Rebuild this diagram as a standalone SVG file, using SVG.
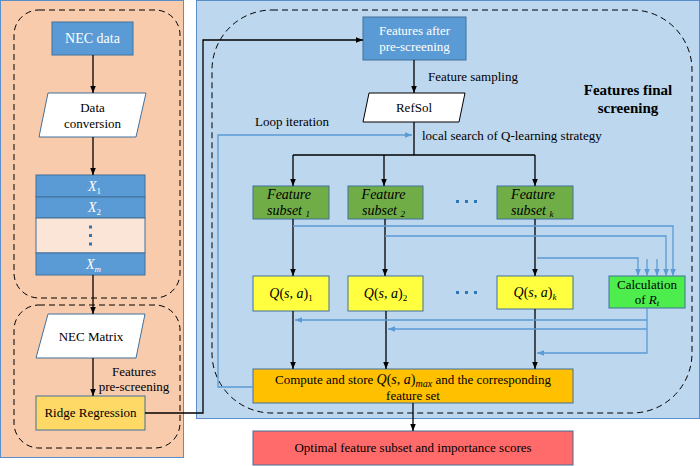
<svg xmlns="http://www.w3.org/2000/svg" width="700" height="466" viewBox="0 0 700 466" font-family="Liberation Serif, serif">
<defs>
<marker id="ab" viewBox="0 0 10 10" refX="10" refY="5" markerWidth="7" markerHeight="7" orient="auto" markerUnits="userSpaceOnUse"><path d="M0,1 L10,5 L0,9 z" fill="#000"/></marker>
<marker id="au" viewBox="0 0 10 10" refX="10" refY="5" markerWidth="7" markerHeight="7" orient="auto" markerUnits="userSpaceOnUse"><path d="M0,1 L10,5 L0,9 z" fill="#5b9bd5"/></marker>
<style>
text{font-family:'Liberation Serif','DejaVu Serif',serif;font-size:13px;fill:#000}
.w{fill:#fff}
.c{text-anchor:middle}
.i{font-style:italic}
.b{font-weight:bold;font-size:15px}
.m{font-size:14px}
.dash{fill:none;stroke:#000;stroke-width:1;stroke-dasharray:6 4}
.box{stroke:#41719c;stroke-width:1}
.k{fill:none;stroke:#000;stroke-width:1.3;marker-end:url(#ab)}
.kl{fill:none;stroke:#000;stroke-width:1.3}
.u{fill:none;stroke:#5b9bd5;stroke-width:1.3;marker-end:url(#au)}
.dot{fill:#2e75b6}
</style>
</defs>
<rect width="700" height="466" fill="#fff"/>
<g id="panel-left">
<rect x="0.5" y="0.5" width="183" height="457" fill="#f8cbad" stroke="#5b8ec9" stroke-width="1"/>
<rect x="14" y="10" width="166" height="288" rx="25" class="dash"/>
<rect x="14" y="305" width="166" height="143" rx="25" class="dash"/>
</g>
<g id="panel-right">
<rect x="196.5" y="0.5" width="503" height="418" fill="#bdd7ee" stroke="#5b8ec9" stroke-width="1"/>
<rect x="212" y="10" width="480" height="403" rx="60" class="dash"/>
<text x="628" y="95" class="b c">Features final</text>
<text x="628" y="113" class="b c">screening</text>
</g>
<g id="nec-data">
<rect x="52" y="22" width="81" height="33" fill="#5b9bd5" class="box"/>
<text x="92.5" y="43" class="w c m">NEC data</text>
</g>
<g id="data-conversion">
<polygon points="48,93 146,93 136,137 39,137" fill="#fff" stroke="#41719c"/>
<text x="92.5" y="112" class="c">Data</text>
<text x="92.5" y="128" class="c">conversion</text>
</g>
<g id="x-stack">
<rect x="36" y="175" width="109" height="22" fill="#5b9bd5" class="box"/>
<rect x="36" y="197" width="109" height="21" fill="#5b9bd5" class="box"/>
<rect x="36" y="218" width="109" height="35" fill="#fbe5d6" class="box"/>
<rect x="36" y="253" width="109" height="22" fill="#5b9bd5" class="box"/>
<text x="88" y="191" class="w i m">X<tspan dy="3" style="font-size:9px;font-style:normal">1</tspan></text>
<text x="88" y="212" class="w i m">X<tspan dy="3" style="font-size:9px;font-style:normal">2</tspan></text>
<text x="86" y="269" class="w i m">X<tspan dy="3" style="font-size:9px">m</tspan></text>
<rect x="89" y="225.5" width="3" height="3" class="dot"/>
<rect x="89" y="234" width="3" height="3" class="dot"/>
<rect x="89" y="242.5" width="3" height="3" class="dot"/>
</g>
<g id="nec-matrix">
<polygon points="48,314 145,314 136,358 36,358" fill="#fff" stroke="#41719c"/>
<text x="91" y="341" class="c">NEC Matrix</text>
</g>
<g id="ridge-regression">
<rect x="36" y="396" width="109" height="34" fill="#ffd966" class="box"/>
<text x="90.5" y="417" class="c">Ridge Regression</text>
</g>
<g id="features-after">
<rect x="363" y="17" width="103" height="43" fill="#5b9bd5" class="box"/>
<text x="414.5" y="35" class="w c">Features after</text>
<text x="414.5" y="51" class="w c">pre-screening</text>
</g>
<g id="refsol">
<polygon points="369,93 465,93 459,122 363,122" fill="#fff" stroke="#000"/>
<text x="414" y="112" class="c">RefSol</text>
</g>
<g id="feature-subset-1">
<rect x="253" y="186" width="76" height="33" fill="#70ad47" class="box"/>
<text x="289" y="199" class="c i m">Feature</text>
<text x="267" y="215" class="i m">subset <tspan dy="2" style="font-size:9px">1</tspan></text>
</g>
<g id="feature-subset-2">
<rect x="348" y="186" width="75" height="33" fill="#70ad47" class="box"/>
<text x="383.5" y="199" class="c i m">Feature</text>
<text x="362" y="215" class="i m">subset <tspan dy="2" style="font-size:9px">2</tspan></text>
</g>
<g id="feature-subset-k">
<rect x="497" y="186" width="76" height="33" fill="#70ad47" class="box"/>
<text x="533" y="199" class="c i m">Feature</text>
<text x="511" y="215" class="i m">subset <tspan dy="2" style="font-size:9px">k</tspan></text>
</g>
<g id="dots-subsets">
<rect x="456" y="200" width="3" height="3" class="dot"/>
<rect x="465" y="200" width="3" height="3" class="dot"/>
<rect x="474" y="200" width="3" height="3" class="dot"/>
</g>
<g id="q1">
<rect x="253" y="276" width="76" height="35" fill="#ffff40" class="box"/>
<text x="291" y="298" class="c m"><tspan class="i">Q</tspan>(<tspan class="i">s</tspan>, <tspan class="i">a</tspan>)<tspan dy="3" style="font-size:9px">1</tspan></text>
</g>
<g id="q2">
<rect x="348" y="276" width="75" height="35" fill="#ffff40" class="box"/>
<text x="385.5" y="298" class="c m"><tspan class="i">Q</tspan>(<tspan class="i">s</tspan>, <tspan class="i">a</tspan>)<tspan dy="3" style="font-size:9px">2</tspan></text>
</g>
<g id="qk">
<rect x="497" y="276" width="76" height="33" fill="#ffff40" class="box"/>
<text x="535" y="297" class="c m"><tspan class="i">Q</tspan>(<tspan class="i">s</tspan>, <tspan class="i">a</tspan>)<tspan dy="3" style="font-size:9px" class="i">k</tspan></text>
</g>
<g id="dots-q">
<rect x="456" y="291" width="3" height="3" class="dot"/>
<rect x="465" y="291" width="3" height="3" class="dot"/>
<rect x="474" y="291" width="3" height="3" class="dot"/>
</g>
<g id="calc-rt">
<rect x="609" y="276" width="76" height="32" fill="#4ded4d" class="box"/>
<text x="647" y="289" class="c">Calculation</text>
<text x="647" y="304" class="c">of <tspan class="i">R</tspan><tspan dy="2" style="font-size:9px" class="i">t</tspan></text>
</g>
<g id="compute">
<rect x="253" y="369" width="320" height="34" fill="#ffc000" class="box"/>
<text x="413" y="384" class="c">Compute and store <tspan class="i m">Q</tspan><tspan class="m">(</tspan><tspan class="i m">s</tspan><tspan class="m">, </tspan><tspan class="i m">a</tspan><tspan class="m">)</tspan><tspan dy="3" class="i" style="font-size:10px">max</tspan><tspan dy="-3"> and the corresponding</tspan></text>
<text x="413" y="400" class="c">feature set</text>
</g>
<g id="optimal">
<rect x="253" y="431" width="320" height="34" fill="#ff6b6b" class="box"/>
<text x="413" y="452" class="c">Optimal feature subset and importance scores</text>
</g>
<g id="connectors">
<path d="M93,55 V93" class="k"/>
<path d="M93,137 V175" class="k"/>
<path d="M93,275 V314" class="k"/>
<path d="M93,358 V396" class="k"/>
<path d="M145,413 H203 V40 H363" class="k"/>
<path d="M414,60 V93" class="k"/>
<path d="M414,122 V155" class="kl"/>
<path d="M293,155 H535" class="kl"/>
<path d="M293,155 V186" class="k"/>
<path d="M384,155 V186" class="k"/>
<path d="M535,155 V186" class="k"/>
<path d="M293,219 V276" class="k"/>
<path d="M385,219 V276" class="k"/>
<path d="M535,219 V276" class="k"/>
<path d="M293,311 V369" class="k"/>
<path d="M386,311 V369" class="k"/>
<path d="M535,309 V369" class="k"/>
<path d="M413,403 V431" class="k"/>
<path d="M253,387 H218 V135 H412" class="u"/>
<path d="M293,226 H673 V276" class="u"/>
<path d="M385,236 H666 V276" class="u"/>
<path d="M537,258 H638 V276" class="u"/>
<path d="M647,259 V276" class="u"/>
<path d="M657,259 V276" class="u"/>
<path d="M647,308 V353 H537" class="u"/>
<path d="M647,320 H295" class="u"/>
<path d="M647,329 H388" class="u"/>
<text x="134" y="376" class="c">Features</text>
<text x="134" y="391" class="c">pre-screening</text>
<text x="428" y="81">Feature sampling</text>
<text x="292" y="126" class="c">Loop iteration</text>
<text x="422" y="140">local search of Q-learning strategy</text>
</g>
</svg>
